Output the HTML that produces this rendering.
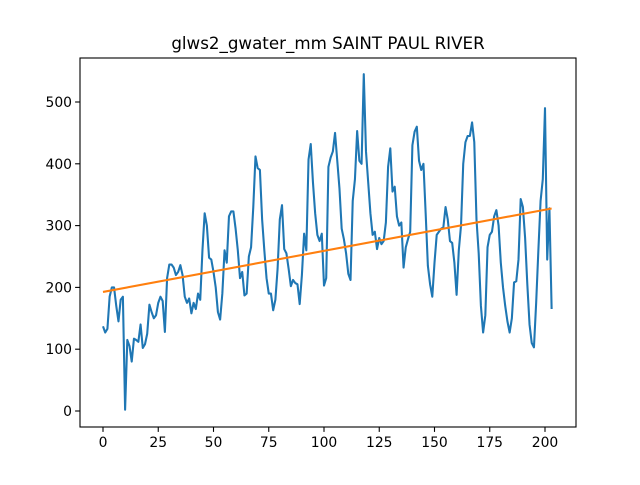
<!DOCTYPE html>
<html><head><meta charset="utf-8"><style>
body{margin:0;background:#fff;font-family:"Liberation Sans","DejaVu Sans",sans-serif}
svg text{font-family:"DejaVu Sans","Liberation Sans",sans-serif}
</style></head><body>
<svg id="chart" width="640" height="480"></svg>
<script>
const values=[137,127,133,185,200,200,170,145,180,185,2,115,105,80,117,115,112,140,102,108,125,172,160,150,155,175,185,178,128,215,237,237,232,220,225,236,220,185,175,182,158,175,165,190,180,260,320,300,248,245,225,200,160,148,190,260,240,315,323,323,295,260,215,225,187,190,250,265,330,412,393,390,310,260,215,190,190,163,180,230,310,333,262,255,230,202,212,207,205,173,220,287,260,407,432,370,320,285,275,287,203,215,395,410,420,450,405,360,295,278,255,222,212,340,375,453,405,400,545,420,370,320,285,290,262,280,270,275,305,395,425,355,363,315,300,305,232,265,278,290,430,452,460,405,390,400,320,235,205,185,240,285,290,295,297,330,310,275,272,240,188,260,300,400,435,445,445,467,435,310,255,170,127,155,265,285,290,315,325,300,240,200,170,145,127,150,208,210,245,343,330,280,205,140,110,103,175,260,340,375,490,245,328,165];
const xTicks=[0,25,50,75,100,125,150,175,200];
const yTicks=[0,100,200,300,400,500];
const NS="http://www.w3.org/2000/svg";
const svg=document.getElementById('chart');
const L=80,R=576,T=58,B=427;
const xs=v=>103+(v)*2.21;
const ys=v=>411-v*0.618;
function mk(t,a,p){const e=document.createElementNS(NS,t);for(const k in a)e.setAttribute(k,a[k]);(p||svg).appendChild(e);return e;}
const title=mk('text',{x:328,y:49,'text-anchor':'middle','font-size':16.7});title.textContent='glws2_gwater_mm SAINT PAUL RIVER';


xTicks.forEach(t=>{const x=xs(t);const l=mk('line',{x1:x,x2:x,y1:B,y2:B+4.9,stroke:'#000','stroke-width':1.1});


const tx=mk('text',{x:x,y:B+20,'text-anchor':'middle','font-size':13.9});tx.textContent=t;

});
yTicks.forEach(t=>{const y=ys(t);const l=mk('line',{x1:L-4.9,x2:L,y1:y,y2:y,stroke:'#000','stroke-width':1.1});


const tx=mk('text',{x:L-8,y:y+5,'text-anchor':'end','font-size':13.9});tx.textContent=t;

});
const pts=values.map((v,i)=>xs(i).toFixed(2)+','+ys(v).toFixed(2)).join(' ');
const line=mk('polyline',{points:pts,fill:'none',stroke:'#1f77b4','stroke-width':2.08,'stroke-linejoin':'round'});


const n=values.length;let sx=0,sy=0,sxx=0,sxy=0;values.forEach((v,i)=>{sx+=i;sy+=v;sxx+=i*i;sxy+=i*v;});
const m=(n*sxy-sx*sy)/(n*sxx-sx*sx),b=(sy-m*sx)/n;
const tr=mk('line',{x1:xs(0),y1:ys(b),x2:xs(n-1),y2:ys(b+m*(n-1)),stroke:'#ff7f0e','stroke-width':2.08});


const fr=mk('rect',{x:L,y:T,width:R-L,height:B-T,fill:'none',stroke:'#000','stroke-width':1.1});


</script>
</body></html>
